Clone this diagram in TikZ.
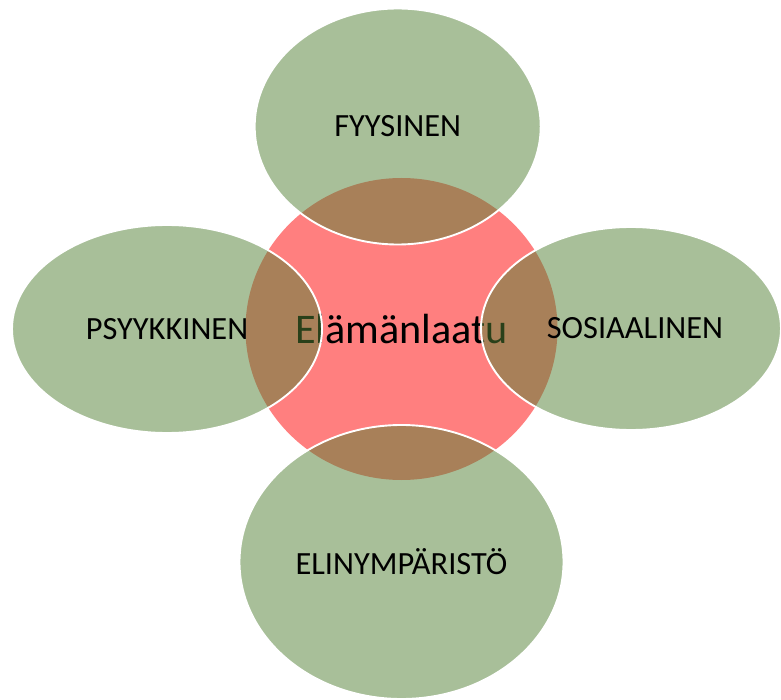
\documentclass[tikz,border=0pt]{standalone}
\usepackage{fontspec}
\setmainfont{Carlito}
\usetikzlibrary{shapes.geometric}
\definecolor{coreRed}{HTML}{FF7F7F}
\definecolor{leafGreen}{HTML}{538135}
\tikzset{
  core/.style={ellipse, fill=coreRed, inner sep=0pt, text=black,
    font=\fontsize{42.2}{50}\selectfont},
  petal/.style={ellipse, fill=leafGreen, fill opacity=0.5, text opacity=1,
    draw=white, draw opacity=1, line width=1.9pt, inner sep=0pt, text=black,
    font=\fontsize{32.4}{39}\selectfont},
  tag/.style={inner sep=0pt, text=black, font=\fontsize{32.4}{39}\selectfont}
}
\begin{document}
\begin{tikzpicture}[x=1pt,y=-1pt]
  \useasboundingbox[fill=white] (0,0) rectangle (781,700);
  % central area
  \node[core, minimum width=312pt, minimum height=302pt] (qol) at (401.5,329) {Elämänlaatu};
  % the four dimensions around it
  \node[petal, minimum width=286pt, minimum height=236pt] (fys) at (397.7,126.5) {FYYSINEN};
  \node[petal, minimum width=310pt, minimum height=208pt] (psy) at (167,329) {PSYYKKINEN};
  \node[petal, minimum width=300pt, minimum height=203pt] (sos) at (631,328.5) {};
  \node[tag] (sostag) at ([xshift=4pt]sos.center) {SOSIAALINEN};
  \node[petal, minimum width=324pt, minimum height=274pt] (eli) at (401.5,562) {ELINYMPÄRISTÖ};
\end{tikzpicture}
\end{document}
